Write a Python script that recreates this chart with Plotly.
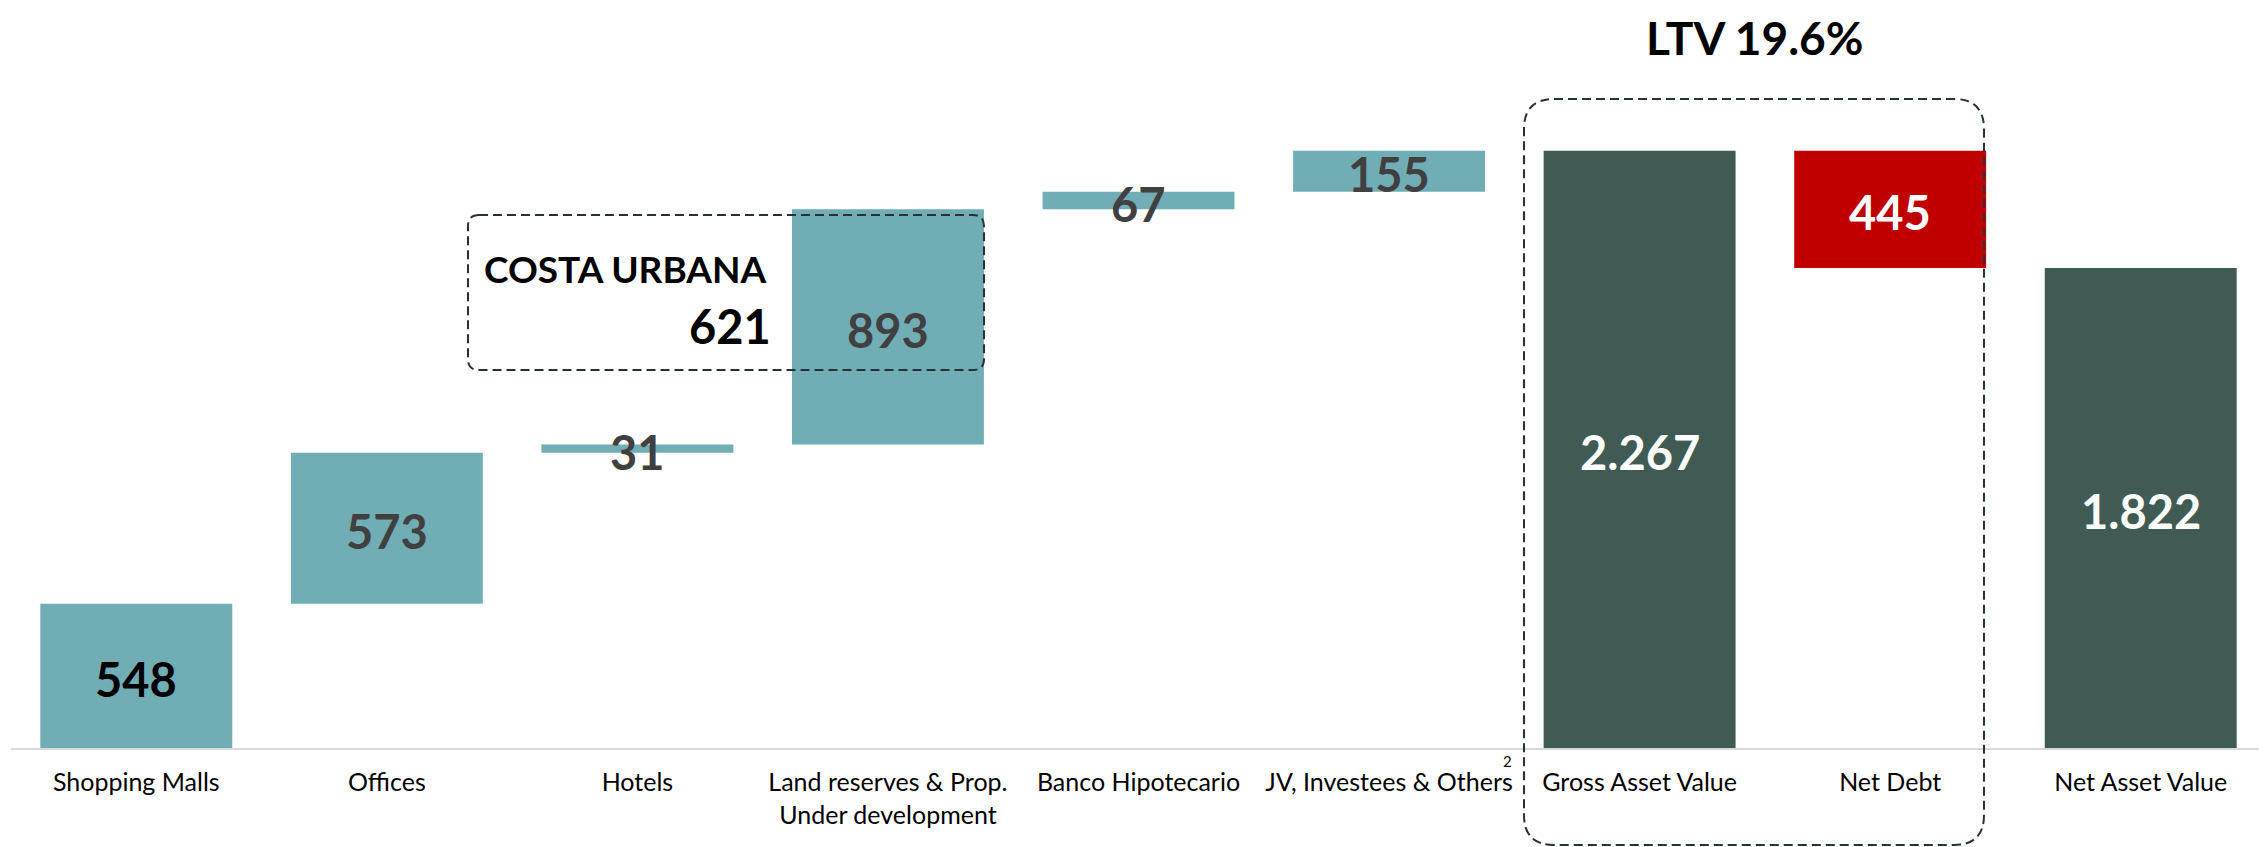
import plotly.graph_objects as go

# ---------------- data ----------------
categories = [
    "Shopping Malls",
    "Offices",
    "Hotels",
    "Land reserves & Prop.<br>Under development",
    "Banco Hipotecario",
    "JV, Investees & Others",
    "Gross Asset Value",
    "Net Debt",
    "Net Asset Value",
]
values = [548, 573, 31, 893, 67, 155, 2267, 445, 1822]
measures = ["relative"] * 6 + ["total", "decrease", "total"]
label_colors = ["#000000", "#404040", "#404040", "#404040", "#404040",
                "#404040", "#FFFFFF", "#FFFFFF", "#FFFFFF"]
costa_urbana = 621
ltv_pct = 19.6
footnote = "2"

# ---------------- styles ----------------
COL_INC = "#71ADB5"
COL_TOT = "#3F5B53"
COL_DEC = "#C00000"
FONT = "Lato, 'Open Sans', sans-serif"
OFF = 8                       # page body margin offset
W, H = 2267 - OFF, 847 - OFF
ML, MR, MT = 3, 1, 0
BASE_Y = 740                  # baseline in figure px
MB = H - BASE_Y
PW, PH = W - ML - MR, BASE_Y - MT
PX_PER_UNIT = 0.2634
YMAX = PH / PX_PER_UNIT

# ---------------- compute floating bars ----------------
bases, colors = [], []
running = 0
for v, m in zip(values, measures):
    if m == "relative":
        bases.append(running)
        running += v
        colors.append(COL_INC)
    elif m == "total":
        bases.append(0)
        colors.append(COL_TOT)
    else:
        running -= v
        bases.append(running)
        colors.append(COL_DEC)
mids = [b + v / 2 for b, v in zip(bases, values)]
texts = [f"{v:,}".replace(",", ".") for v in values]

fig = go.Figure()
fig.add_trace(go.Bar(
    x=categories, y=values, base=bases,
    marker=dict(color=colors, line=dict(width=0)),
    hoverinfo="skip", showlegend=False,
))

for c, m, t, col in zip(categories, mids, texts, label_colors):
    fig.add_annotation(
        x=c, y=m, xref="x", yref="y", text=f"<b>{t}</b>", showarrow=False,
        xanchor="center", yanchor="middle", yshift=-3,
        font=dict(family=FONT, size=47, color=col),
    )


def px(xp):
    # page px -> paper x
    return (xp - OFF - ML) / PW


def py(yp):
    # page px -> paper y
    return (BASE_Y - (yp - OFF)) / PH


def rounded_rect(x0, y0, x1, y1, r):
    pts = [
        ("M", x0 + r, y0), ("L", x1 - r, y0), ("Q", x1, y0, x1, y0 + r),
        ("L", x1, y1 - r), ("Q", x1, y1, x1 - r, y1), ("L", x0 + r, y1),
        ("Q", x0, y1, x0, y1 - r), ("L", x0, y0 + r), ("Q", x0, y0, x0 + r, y0),
    ]
    out = []
    for p in pts:
        cmd = p[0]
        coords = p[1:]
        s = cmd
        for i in range(0, len(coords), 2):
            s += f" {px(coords[i]):.5f},{py(coords[i+1]):.5f}"
        out.append(s)
    return " ".join(out) + " Z"


dash_line = dict(color="#263238", width=2, dash="9px,5px")
fig.add_shape(type="path", xref="paper", yref="paper",
              path=rounded_rect(468, 215, 984, 370, 11), line=dash_line,
              fillcolor="rgba(0,0,0,0)", layer="above")
fig.add_shape(type="path", xref="paper", yref="paper",
              path=rounded_rect(1524, 99, 1984, 845, 30), line=dash_line,
              fillcolor="rgba(0,0,0,0)", layer="above")

fig.add_annotation(xref="paper", yref="paper", x=px(1754), y=py(37),
                   text=f"<b>LTV {ltv_pct}%</b>", showarrow=False,
                   xanchor="center", yanchor="middle", borderpad=0,
                   font=dict(family=FONT, size=46, color="#000000"))
fig.add_annotation(xref="paper", yref="paper", x=px(482), y=py(268),
                   text="<b>COSTA URBANA</b>", showarrow=False,
                   xanchor="left", yanchor="middle",
                   font=dict(family=FONT, size=37, color="#000000"))
fig.add_annotation(xref="paper", yref="paper", x=px(773), y=py(326),
                   text=f"<b>{costa_urbana}</b>", showarrow=False,
                   xanchor="right", yanchor="middle",
                   font=dict(family=FONT, size=47, color="#000000"))
fig.add_annotation(xref="paper", yref="paper", x=px(1507), y=py(761),
                   text=footnote, showarrow=False,
                   xanchor="center", yanchor="middle",
                   font=dict(family=FONT, size=15, color="#000000"))

fig.update_layout(
    width=W, height=H,
    margin=dict(l=ML, r=MR, t=MT, b=MB, pad=0),
    paper_bgcolor="white", plot_bgcolor="white",
    bargap=0.234,
    showlegend=False,
    font=dict(family=FONT, color="#000000"),
)
fig.update_xaxes(
    type="category", showgrid=False, zeroline=False,
    showline=True, linecolor="#D9D9D9", linewidth=2,
    ticks="", ticklabelstandoff=11,
    tickfont=dict(family=FONT, size=25, color="#000000"),
    fixedrange=True,
)
fig.update_yaxes(visible=False, range=[0, YMAX], showgrid=False,
                 zeroline=False, fixedrange=True)

fig.write_html("out.html")
